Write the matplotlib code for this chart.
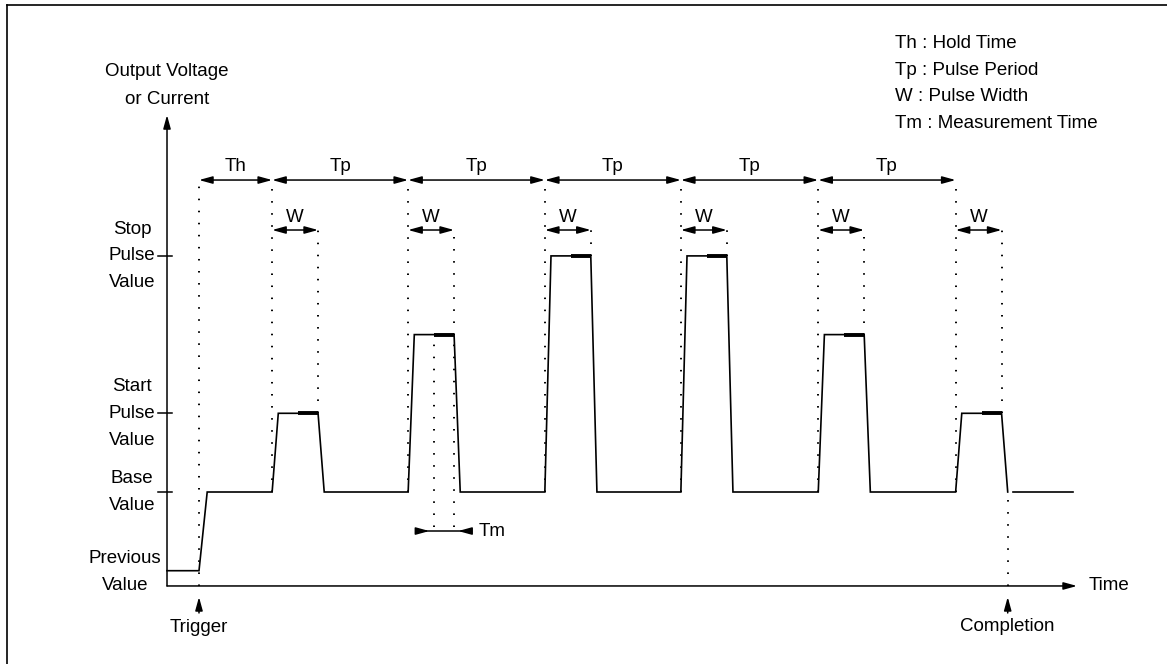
import matplotlib
matplotlib.use('Agg')
import matplotlib.pyplot as plt

# timing, in units of the pulse period Tp (trigger at t = 0)
pulse_starts = [0.535, 1.53, 2.53, 3.525, 4.53, 5.535]
W = 0.336          # pulse width
Tm = 0.146         # measurement time (end of each pulse)
rise = 0.045
fall = 0.045
trig_rise = 0.06
t_begin = -0.234
t_tail_end = 6.39

# output levels
previous_value = 0.0
base_value = 1.0
start_value = 2.0
mid_value = 3.0
stop_value = 4.0
pulse_levels = [start_value, mid_value, stop_value, stop_value, mid_value, start_value]

level_labels = ['Stop\nPulse\nValue', 'Start\nPulse\nValue', 'Base\nValue', 'Previous\nValue']
level_values = [stop_value, start_value, base_value, previous_value]
level_label_x = [-0.49, -0.49, -0.49, -0.541]
level_label_y = [4.0, 2.0, 1.0, -0.02]

period_labels = ['Th', 'Tp', 'Tp', 'Tp', 'Tp', 'Tp']
legend_lines = ['Th : Hold Time', 'Tp : Pulse Period', 'W : Pulse Width', 'Tm : Measurement Time']

plt.rcParams['font.family'] = ['Liberation Sans', 'DejaVu Sans']
FS = 13.5

fig = plt.figure(figsize=(11.67, 6.64), dpi=100)
ax = fig.add_axes([0, 0, 1, 1])
ax.set_xlim(-1.4557, 7.0812)
ax.set_ylim(-1.1855, 7.2516)
ax.axis('off')

# layout positions (data units)
x_axis_y = -0.194
y_axis_top = 5.79
x_axis_end = 6.423
period_arrow_y = 4.964
w_arrow_y = 4.329
tm_arrow_y = 0.504

dot = dict(color='k', lw=1.4, linestyle=(0, (0.8, 5.4)))
HEAD = 'head_length=0.8,head_width=0.22'

def darrow(x1, x2, y):
    ax.annotate('', xy=(x2, y), xytext=(x1, y),
                arrowprops=dict(arrowstyle='<|-|>,' + HEAD,
                                lw=1.1, color='k', shrinkA=0, shrinkB=0))

def sarrow(x1, y1, x2, y2):
    ax.annotate('', xy=(x2, y2), xytext=(x1, y1),
                arrowprops=dict(arrowstyle='-|>,' + HEAD,
                                lw=1.1, color='k', shrinkA=0, shrinkB=0))

# frame (left and top only visible)
ax.plot([-1.4045, -1.4045], [-1.2, 7.188], color='k', lw=1.2)
ax.plot([-1.4045, 7.1], [7.188, 7.188], color='k', lw=1.2)

# axes
sarrow(t_begin, x_axis_y, t_begin, y_axis_top)
sarrow(t_begin, x_axis_y, x_axis_end, x_axis_y)
ax.text(6.511, x_axis_y, 'Time', fontsize=FS, va='center', ha='left')
ax.text(t_begin, 6.165, 'Output Voltage\nor Current', fontsize=FS, ha='center', va='center',
        linespacing=1.8)

# level ticks and labels
for lab, v, lx, ly in zip(level_labels, level_values, level_label_x, level_label_y):
    if v != previous_value:
        ax.plot([-0.300, -0.198], [v, v], color='k', lw=1.1)
    ax.text(lx, ly, lab, fontsize=FS, ha='center', va='center', linespacing=1.75)

# waveform
ts = [t_begin, 0.0, trig_rise]
vs = [previous_value, previous_value, base_value]
for s, lvl in zip(pulse_starts, pulse_levels):
    ts += [s, s + rise, s + W, s + W + fall]
    vs += [base_value, lvl, lvl, base_value]
ax.plot(ts, vs, color='k', lw=1.2, solid_joinstyle='miter')
completion = pulse_starts[-1] + W + fall
ax.plot([completion + 0.035, t_tail_end], [base_value, base_value], color='k', lw=1.2)

# measurement windows (thick)
for s, lvl in zip(pulse_starts, pulse_levels):
    ax.plot([s + W - Tm, s + W], [lvl, lvl], color='k', lw=2.8, solid_capstyle='butt')

# dotted guides
ax.plot([0, 0], [x_axis_y, period_arrow_y], **dot)
for s, lvl in zip(pulse_starts, pulse_levels):
    ax.plot([s, s], [base_value, period_arrow_y], **dot)
    ax.plot([s + W, s + W], [lvl, w_arrow_y], **dot)
ax.plot([completion, completion], [x_axis_y, base_value], **dot)

# Th / Tp arrows
edges = [0.0] + pulse_starts
for a, b, lab in zip(edges[:-1], edges[1:], period_labels):
    darrow(a, b, period_arrow_y)
    ax.text((a + b) / 2, 5.142, lab, fontsize=FS, ha='center', va='center')

# W arrows
for s in pulse_starts:
    darrow(s, s + W, w_arrow_y)
    ax.text(s + W / 2, 4.482, 'W', fontsize=FS, ha='center', va='center')

# Tm on second pulse
s2, l2 = pulse_starts[1], pulse_levels[1]
ax.plot([s2 + W - Tm, s2 + W - Tm], [0.555, l2], **dot)
ax.plot([s2 + W, s2 + W], [0.555, l2], **dot)
ax.plot([s2 + W - Tm - 0.095, s2 + W + 0.09], [tm_arrow_y, tm_arrow_y], color='k', lw=1.1)
sarrow(s2 + W - Tm - 0.095, tm_arrow_y, s2 + W - Tm - 0.035, tm_arrow_y)
sarrow(s2 + W + 0.09, tm_arrow_y, s2 + W + 0.03, tm_arrow_y)
ax.text(s2 + W + 0.18, tm_arrow_y, 'Tm', fontsize=FS, ha='left', va='center')

# trigger / completion markers
sarrow(0.0, -0.537, 0.0, -0.334)
ax.text(0.0, -0.728, 'Trigger', fontsize=FS, ha='center', va='center')
sarrow(completion, -0.537, completion, -0.334)
ax.text(completion, -0.715, 'Completion', fontsize=FS, ha='center', va='center')

# legend text
for i, line in enumerate(legend_lines):
    ax.text(5.091, 6.693 - i * 0.335, line, fontsize=FS, ha='left', va='center')

fig.savefig('out.png', dpi=100, facecolor='white')
